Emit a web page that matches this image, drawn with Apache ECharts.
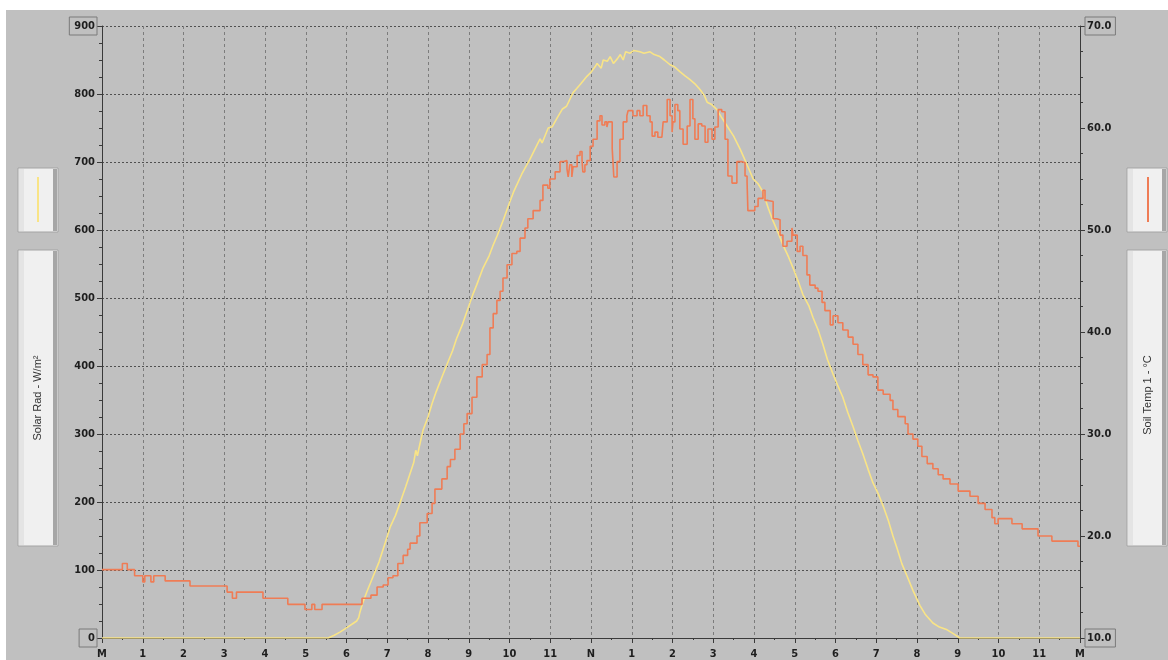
<!DOCTYPE html>
<html>
<head>
<meta charset="utf-8">
<script src="https://cdn.jsdelivr.net/npm/echarts@6/dist/echarts.min.js"></script>
<style>
html,body{margin:0;padding:0;background:#ffffff;width:1168px;height:660px;overflow:hidden;}
#c{position:absolute;left:6px;top:10px;width:1162px;height:650px;}
</style>
</head>
<body>
<div id="c"></div>
<script>
// x-axis tick labels (hours of the day)
const hourLabels = ['M','1','2','3','4','5','6','7','8','9','10','11','N','1','2','3','4','5','6','7','8','9','10','11','M'];
// axis titles
const leftTitle = 'Solar Rad - W/m²';
const rightTitle = 'Soil Temp 1 - °C';
// Solar radiation: [hour, W/m²]
const solarRad = [
[0,0],[1,0],[2,0],[3,0],[4,0],[5,0],[5.55,0],[5.7,4],[5.85,9],[6.0,15],
[6.15,21],[6.25,25],[6.3,30],[6.33,38],[6.4,52],[6.5,68],[6.65,90],[6.8,112],[6.95,140],[7.07,163],
[7.2,180],[7.31,198],[7.45,222],[7.56,242],[7.65,258],[7.7,276],[7.74,268],[7.8,285],[7.88,306],[8.0,325],
[8.1,345],[8.2,362],[8.35,385],[8.47,403],[8.6,422],[8.7,440],[8.85,462],[9.0,488],[9.1,505],[9.2,520],
[9.35,544],[9.5,562],[9.6,578],[9.7,592],[9.85,615],[10.0,640],[10.1,656],[10.3,682],[10.5,704],[10.6,716],
[10.75,734],[10.8,728],[10.95,750],[11.05,752],[11.17,765],[11.3,778],[11.4,782],[11.56,802],[11.65,808],[11.75,815],
[11.9,826],[12.0,832],[12.1,840],[12.15,845],[12.25,838],[12.3,850],[12.4,848],[12.47,855],[12.55,845],[12.65,852],
[12.72,858],[12.79,850],[12.85,862],[12.96,860],[13.05,864],[13.2,862],[13.3,860],[13.45,862],[13.55,858],[13.69,855],
[13.8,850],[13.94,843],[14.05,840],[14.18,833],[14.3,827],[14.43,821],[14.55,815],[14.67,807],[14.78,798],[14.85,788],
[14.95,785],[15.09,777],[15.2,766],[15.34,753],[15.5,738],[15.66,719],[15.8,700],[15.98,675],[16.1,668],[16.22,656],
[16.35,632],[16.47,613],[16.6,595],[16.71,578],[16.85,560],[16.96,544],[17.1,522],[17.2,505],[17.35,488],[17.45,471],
[17.58,452],[17.69,432],[17.8,410],[17.94,388],[18.05,372],[18.18,354],[18.3,332],[18.43,311],[18.55,290],[18.67,271],
[18.8,248],[18.92,228],[19.05,212],[19.17,194],[19.3,172],[19.41,150],[19.52,130],[19.63,109],[19.75,92],[19.9,70],
[20.07,48],[20.2,35],[20.39,22],[20.55,16],[20.74,12],[20.9,6],[21.05,0],[22,0],[23,0],[24,0]
];
// Soil temperature: [hour, °C]
const soilTemp = [
[0,16.7],[0.5,17.3],[0.62,16.7],[0.8,16.1],[1.0,15.5],[1.05,16.1],[1.2,15.5],[1.27,16.1],[1.55,15.6],[2.16,15.1],
[3.07,14.5],[3.2,13.9],[3.3,14.5],[3.95,13.9],[4.56,13.3],[4.98,12.8],[5.15,13.3],[5.22,12.8],[5.4,13.3],[6.38,13.9],
[6.6,14.2],[6.75,15.0],[6.9,15.2],[7.02,15.9],[7.14,16.1],[7.26,17.3],[7.39,18.1],[7.5,18.7],[7.56,19.3],[7.73,20.0],
[7.8,21.3],[7.98,22.2],[8.1,23.2],[8.17,24.6],[8.34,25.6],[8.47,26.8],[8.55,27.5],[8.66,28.5],[8.79,30.0],[8.88,31.0],
[8.96,32.0],[9.08,33.6],[9.2,35.6],[9.33,36.8],[9.45,37.8],[9.52,40.4],[9.6,41.8],[9.69,43.1],[9.77,44.0],[9.84,45.3],
[9.94,46.6],[10.06,47.7],[10.18,47.9],[10.26,49.2],[10.38,50.2],[10.45,51.1],[10.58,51.9],[10.75,52.9],[10.82,54.4],[10.94,54.1],
[10.99,55.0],[11.12,55.7],[11.24,56.7],[11.31,56.8],[11.41,56.0],[11.44,55.2],[11.48,56.4],[11.53,55.2],[11.56,56.2],[11.66,57.3],
[11.73,57.7],[11.78,56.8],[11.8,55.7],[11.85,56.4],[11.9,56.8],[11.98,58.2],[12.05,58.9],[12.15,60.7],[12.22,61.2],[12.27,60.3],
[12.34,60.6],[12.39,60.1],[12.42,60.6],[12.52,58.0],[12.56,55.2],[12.64,56.7],[12.71,58.9],[12.79,60.6],[12.88,61.2],[12.91,61.7],
[13.03,61.2],[13.13,61.7],[13.2,61.2],[13.28,62.2],[13.37,61.2],[13.45,60.6],[13.5,59.2],[13.57,59.6],[13.64,59.1],[13.74,59.1],
[13.77,60.6],[13.87,62.8],[13.94,61.2],[13.99,59.6],[14.01,60.6],[14.06,62.3],[14.13,61.7],[14.18,59.9],[14.26,58.4],[14.36,60.2],
[14.43,62.8],[14.5,60.9],[14.55,58.9],[14.63,60.4],[14.72,60.2],[14.8,58.6],[14.87,59.9],[14.97,58.9],[15.04,60.1],[15.12,61.8],
[15.21,61.6],[15.29,58.9],[15.36,55.3],[15.46,54.6],[15.58,56.7],[15.71,56.6],[15.78,55.3],[15.83,54.7],[15.85,51.9],[16.02,52.3],
[16.1,53.1],[16.22,53.9],[16.27,52.9],[16.34,52.8],[16.47,51.1],[16.56,51.0],[16.64,49.5],[16.71,48.4],[16.81,48.9],[16.93,50.2],
[16.96,49.5],[17.06,47.9],[17.13,48.4],[17.2,47.5],[17.3,45.6],[17.37,44.6],[17.5,44.3],[17.57,44.0],[17.67,42.9],[17.74,42.1],
[17.87,40.7],[17.94,41.6],[18.06,40.9],[18.18,40.2],[18.31,39.5],[18.43,38.8],[18.55,37.8],[18.67,36.8],[18.8,35.8],[18.92,35.6],
[19.04,34.3],[19.17,33.9],[19.34,33.3],[19.41,32.4],[19.53,31.7],[19.71,31.0],[19.78,30.0],[19.9,29.5],[20.02,28.8],[20.12,27.8],
[20.25,27.1],[20.39,26.6],[20.52,26.0],[20.64,25.6],[20.81,25.1],[21.01,24.4],[21.3,23.9],[21.5,23.2],[21.67,22.6],[21.84,21.8],
[21.91,21.2],[21.99,21.7],[22.33,21.2],[22.58,20.7],[22.97,20.0],[23.31,19.5],[23.95,19.0],[24,19.0]
];

const LABEL_FONT = "'Liberation Sans Narrow','DejaVu Sans Condensed','Arial Narrow',sans-serif";
const YELLOW = '#f9e486';
const ORANGE = '#ef7c55';
const chart = echarts.init(document.getElementById('c'));

function boxStyle(pad, align){
  return {fontFamily: LABEL_FONT, fontSize: 11, fontWeight: 'bold', color: '#1e1e1e',
    borderColor: '#7a7a7a', borderWidth: 1, padding: pad, align: align};
}

function legendBox(x, y, w, h){
  return [
    {type:'rect', shape:{x:x, y:y, width:w, height:h}, style:{fill:'#f0f0f0', stroke:'#a4a4a4', lineWidth:1}},
    {type:'rect', shape:{x:x+1, y:y+1, width:5, height:h-2}, style:{fill:'#e4e4e4'}},
    {type:'rect', shape:{x:x+w-5, y:y+1, width:4, height:h-2}, style:{fill:'#a6a6a6'}}
  ];
}

const graphics = [].concat(
  legendBox(12, 158, 40, 64),
  legendBox(12, 240, 40, 296),
  legendBox(1121, 158, 40, 64),
  legendBox(1121, 240, 40, 296),
  [
    {type:'line', shape:{x1:32, y1:167, x2:32, y2:212}, style:{stroke:YELLOW, lineWidth:2}},
    {type:'line', shape:{x1:1142, y1:167, x2:1142, y2:212}, style:{stroke:ORANGE, lineWidth:2}},
    {type:'text', x:32, y:388, rotation:Math.PI/2, style:{text:leftTitle, fill:'#333', font:"11px 'Liberation Sans', Arial, sans-serif", textAlign:'center', textVerticalAlign:'middle'}},
    {type:'text', x:1142, y:385, rotation:Math.PI/2, style:{text:rightTitle, fill:'#333', font:"11px 'Liberation Sans', Arial, sans-serif", textAlign:'center', textVerticalAlign:'middle'}}
  ]
);

chart.setOption({
  backgroundColor: '#c0c0c0',
  animation: false,
  grid: {left: 96, right: 88, top: 16, bottom: 17, containLabel: false},
  xAxis: {
    type: 'value', min: 0, max: 24, interval: 1,
    axisLine: {show: true, onZero: false, lineStyle: {color: '#3a3a3a', width: 1}},
    axisTick: {show: true, length: 5, lineStyle: {color: '#3a3a3a'}},
    minorTick: {show: true, splitNumber: 2, length: 2, lineStyle: {color: '#3a3a3a'}},
    splitLine: {show: true, lineStyle: {color: '#7c7c7c', type: [3, 3], width: 1}},
    axisLabel: {
      margin: 11, fontFamily: LABEL_FONT, fontSize: 11, fontWeight: 'bold', color: '#1e1e1e',
      showMinLabel: true, showMaxLabel: true,
      formatter: v => hourLabels[Math.round(v)]
    }
  },
  yAxis: [
    {
      type: 'value', min: 0, max: 900, interval: 100, position: 'left',
      axisLine: {show: true, lineStyle: {color: '#3a3a3a', width: 1}},
      axisTick: {show: true, length: 5, lineStyle: {color: '#3a3a3a'}},
      minorTick: {show: true, splitNumber: 4, length: 3, lineStyle: {color: '#3a3a3a'}},
      splitLine: {show: true, lineStyle: {color: '#505050', type: [2, 2], width: 1}},
      axisLabel: {
        margin: 5,
        formatter: v => (v === 0 || v === 900) ? '{box' + (v === 0 ? '0' : '9') + '|' + v + '}' : '{p|' + v + '}',
        rich: {
          p: {fontFamily: LABEL_FONT, fontSize: 11, fontWeight: 'bold', color: '#1e1e1e', padding: [0, 2, 0, 0]},
          box9: boxStyle([4, 2, 3, 5], 'right'),
          box0: boxStyle([4, 2, 3, 9], 'right')
        }
      }
    },
    {
      type: 'value', min: 10, max: 70, interval: 10, position: 'right',
      axisLine: {show: true, lineStyle: {color: '#3a3a3a', width: 1}},
      axisTick: {show: true, length: 5, lineStyle: {color: '#3a3a3a'}},
      minorTick: {show: true, splitNumber: 4, length: 3, lineStyle: {color: '#3a3a3a'}},
      splitLine: {show: false},
      axisLabel: {
        margin: 5,
        formatter: v => (v === 10 || v === 70) ? '{box|' + v.toFixed(1) + '}' : '{p|' + v.toFixed(1) + '}',
        rich: {
          p: {fontFamily: LABEL_FONT, fontSize: 11, fontWeight: 'bold', color: '#1e1e1e', padding: [0, 0, 0, 2]},
          box: boxStyle([4, 4, 3, 2], 'left')
        }
      }
    }
  ],
  graphic: graphics,
  series: [
    {
      name: 'Solar Rad', type: 'line', yAxisIndex: 0, data: solarRad,
      showSymbol: false, symbol: 'none',
      lineStyle: {color: YELLOW, width: 1.6}, z: 3
    },
    {
      name: 'Soil Temp 1', type: 'line', yAxisIndex: 1, data: soilTemp,
      showSymbol: false, symbol: 'none', step: 'end',
      lineStyle: {color: ORANGE, width: 1.6}, z: 4
    }
  ]
});
</script>
</body>
</html>
